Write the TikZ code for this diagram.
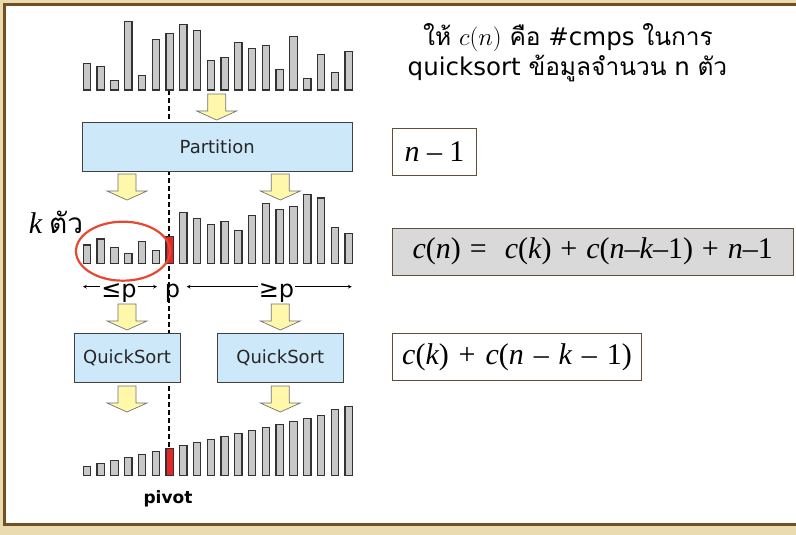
\documentclass[tikz,border=0pt]{standalone}
\usepackage{fontspec}
\setmainfont{DejaVu Sans}
\newfontfamily\thaifont[Script=Thai]{Loma}
\newfontfamily\tnr{Liberation Serif}
\usepackage{tikz}
\usetikzlibrary{arrows,positioning}

\definecolor{frameback}{RGB}{234,219,176}
\definecolor{framebrown}{RGB}{115,80,35}
\definecolor{barfill}{RGB}{200,200,200}
\definecolor{pivotred}{RGB}{228,38,38}
\definecolor{stepblue}{RGB}{205,233,249}
\definecolor{hintyellow}{RGB}{255,248,170}
\definecolor{costline}{RGB}{95,80,55}
\definecolor{costgray}{RGB}{217,217,217}
\definecolor{ringred}{RGB}{232,72,48}

\newcommand{\thai}[1]{{\thaifont #1}}
\newcommand{\iv}[1]{{\itshape #1}}
\newcommand{\yarrow}[3]{%
  \filldraw[hint] (#1-9,#2) -- (#1+9,#2) -- (#1+9,#3-9) -- (#1+20,#3-9)
    -- (#1,#3) -- (#1-20,#3-9) -- (#1-9,#3-9) -- cycle;}

\begin{document}
\begin{tikzpicture}[
    x=1pt, y=-1pt,
    stepbox/.style={rectangle, draw=black!75, fill=stepblue, line width=0.9pt, text=black!85, font=\fontsize{18}{21}\selectfont},
    costbox/.style={rectangle, draw=costline, line width=0.9pt, fill=white, minimum height=46.7pt, font=\tnr\fontsize{30}{34}\selectfont},
    bar/.style={draw=black!80, fill=barfill, line width=1.2pt},
    pivotbar/.style={draw=black!80, fill=pivotred, line width=1.2pt},
    hint/.style={draw=black!55, fill=hintyellow, line width=0.7pt},
    spanline/.style={->, >=stealth, line width=0.7pt},
    rangetext/.style={inner sep=1pt, anchor=base, font=\fontsize{24}{28}\selectfont}
]
    \useasboundingbox (0,0) rectangle (796,535);
    \fill[frameback] (0,0) rectangle (796,535);
    \draw[framebrown, line width=3pt] (4.5,4.5) rectangle (805,524.5);
    \fill[white] (6,6) rectangle (796,523);

    \draw[line width=1.9pt, dash pattern=on 5pt off 3pt] (169.3,90) -- (169.3,448.7);

    % input, after partition, sorted
    \foreach \h [count=\i from 0] in {26.7,23.3,9.3,68.3,14.7,50.7,56.7,65.7,59.7,29.7,32.7,47.7,41.7,44.7,20.7,53.7,11.7,35.7,17.7,38.7}
        \draw[bar] ({83.3+13.77*\i},90) rectangle ++(7.3,-\h);
    \foreach \h [count=\i from 0] in {18.3,24.3,15.6,9.6,21.6,12.6,26.6,50.6,44.6,38.6,41.6,32.6,47.6,59.6,53.6,56.6,68.6,65.3,35.6,29.6}
        \draw[bar] ({83.3+13.77*\i},263.3) rectangle ++(7.3,-\h);
    \foreach \h [count=\i from 0] in {9,12,15,18,21,24,27,30,33,36,39,42,45,48,51,54,57,60,66,69}
        \draw[bar] ({83.3+13.77*\i},475.7) rectangle ++(7.3,-\h);
    \draw[pivotbar] ({83.3+13.77*6},263.3) rectangle ++(7.3,-26.6);
    \draw[pivotbar] ({83.3+13.77*6},475.7) rectangle ++(7.3,-27);

    \node[stepbox, minimum width=270.3pt, minimum height=49.3pt] (part) at (217.2,146.7) {Partition};
    \node[stepbox, minimum width=106pt, minimum height=49pt] (qsleft) at (127,357.8) {QuickSort};
    \node[stepbox, minimum width=126pt, minimum height=49pt] (qsright) at (280.3,357.8) {QuickSort};

    \yarrow{216.7}{94}{120}
    \yarrow{127}{174}{200}
    \yarrow{280.3}{174}{200}
    \yarrow{127}{304}{330}
    \yarrow{280.3}{304}{330}
    \yarrow{127}{386}{412}
    \yarrow{280.3}{386}{412}

    \draw[ringred, line width=2.2pt] (123,251.2) ellipse [x radius=47, y radius=29.5];
    \node[anchor=base] (kcount) at (56,233.3) {{\tnr\itshape\fontsize{30}{34}\selectfont k}\hspace{7pt}\thai{\fontsize{28}{32}\selectfont ตัว}};

    \coordinate (lend) at (83,286.7);
    \coordinate (lstop) at (157,286.7);
    \coordinate (rstart) at (186.7,286.7);
    \coordinate (rend) at (351.7,286.7);
    \node[rangetext] (le) at (119,297.5) {≤p};
    \node[rangetext] (pv) at (172.5,297.5) {p};
    \node[rangetext] (ge) at (276.5,297.5) {≥p};
    \draw[spanline] (le.west |- lend) -- (lend);
    \draw[spanline] (le.east |- lstop) -- (lstop);
    \draw[spanline] (ge.west |- rstart) -- (rstart);
    \draw[spanline] (ge.east |- rend) -- (rend);

    \node[anchor=base, font=\bfseries\fontsize{17}{20}\selectfont] (pivot) at (168,503.3) {pivot};

    \node[anchor=base, font=\fontsize{24.5}{30}\selectfont] (cdef) at (568,46) {\thai{ให้} $c(n)$ \thai{คือ} \#cmps \thai{ในการ}};
    \node[anchor=base, font=\fontsize{24.5}{30}\selectfont] (cdef2) at (567.5,76) {quicksort \thai{ข้อมูลจำนวน} n \thai{ตัว}};

    \node[costbox, minimum width=84.4pt] (cost1) at (434.5,151.7) {\iv{n} – 1};
    \node[costbox, minimum width=401pt, fill=costgray] (rec) at (592.8,251.7) {\spaceskip=0.3em \iv{c}(\iv{n}) =\ \ \iv{c}(\iv{k}) + \iv{c}(\iv{n}–\iv{k}–1) + \iv{n}–1};
    \node[costbox, minimum width=249.4pt] (cost2) at (517,357) {\spaceskip=0.33em \iv{c}(\iv{k}) + \iv{c}(\iv{n} – \iv{k} – 1)};
\end{tikzpicture}
\end{document}
